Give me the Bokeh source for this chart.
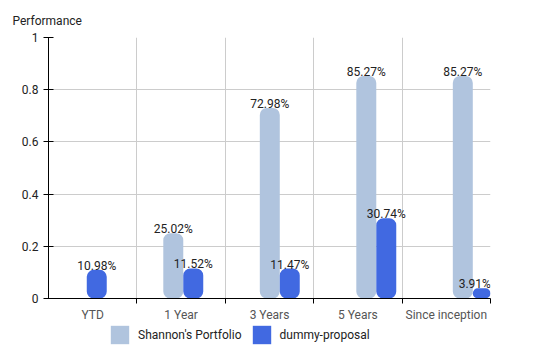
from bokeh.plotting import figure
from bokeh.layouts import column
from bokeh.models import (Range1d, FixedTicker, LinearAxis, NumeralTickFormatter,
                          ColumnDataSource, Legend, LegendItem, Grid)
from bokeh.transform import dodge
from bokeh.embed import file_html
from bokeh.resources import INLINE
from bokeh.core.properties import value

categories = ["YTD", "1 Year", "3 Years", "5 Years", "Since inception"]
shannon = [float("nan"), 0.2502, 0.7298, 0.8527, 0.8527]
dummy = [0.1098, 0.1152, 0.1147, 0.3074, 0.0391]
series_names = ["Shannon's Portfolio", "dummy-proposal"]
y_ticks = [0, 0.2, 0.4, 0.6, 0.8, 1]

FONT = "Roboto"
LIGHT = "#b0c4de"
DARK = "#4169e1"

n = len(categories)
centers = [i + 0.5 for i in range(n)]
bounds = [i + 1 for i in range(n)]

p = figure(frame_width=442, frame_height=261, output_backend="svg", toolbar_location=None,
           x_range=Range1d(0, n), y_range=Range1d(0, 1),
           min_border_left=48, min_border_right=48, min_border_top=37,
           min_border_bottom=24, x_axis_type=None, y_axis_type=None)
p.outline_line_color = None
p.background_fill_color = "white"
p.border_fill_color = "white"

p.title.text = "Performance"
p.title.align = "left"
p.title.offset = -36
p.title.standoff = 20
p.title.text_font = FONT
p.title.text_font_size = "12px"
p.title.text_font_style = "normal"
p.title.text_color = "#222222"

# separate range for the bar slots (bars are spaced slightly wider than the categories)
p.extra_x_ranges = {"bars": Range1d(0, 4.58)}

# axes
xaxis = LinearAxis(ticker=FixedTicker(ticks=centers, minor_ticks=bounds))
xaxis.major_label_overrides = {c: lab for c, lab in zip(centers, categories)}
xaxis.major_tick_in = 0
xaxis.major_tick_out = 0
xaxis.minor_tick_in = 0
xaxis.minor_tick_out = 5
xaxis.minor_tick_line_color = "black"
xaxis.axis_line_color = "black"
xaxis.major_label_standoff = 4
xaxis.major_label_text_font = FONT
xaxis.major_label_text_font_size = "12px"
xaxis.major_label_text_color = "#555555"
p.add_layout(xaxis, "below")

yaxis = LinearAxis(ticker=FixedTicker(ticks=y_ticks, minor_ticks=[]),
                   formatter=NumeralTickFormatter(format="0.[0]"))
yaxis.major_tick_in = 5
yaxis.major_tick_out = 5
yaxis.major_tick_line_color = "black"
yaxis.axis_line_color = "black"
yaxis.major_label_standoff = 5
yaxis.major_label_text_font = FONT
yaxis.major_label_text_font_size = "12px"
yaxis.major_label_text_color = "#222222"
p.add_layout(yaxis, "left")

p.add_layout(Grid(dimension=0, ticker=FixedTicker(ticks=bounds), grid_line_color="#cccccc"))
p.add_layout(Grid(dimension=1, ticker=FixedTicker(ticks=y_ticks), grid_line_color="#cccccc"))

fmt = lambda v: "" if v != v else f"{v*100:.2f}%"
src = ColumnDataSource(dict(
    slot=centers,
    shannon=shannon, dummy=dummy,
    shannon_lab=[fmt(v) for v in shannon],
    dummy_lab=[fmt(v) for v in dummy],
    # labels are nudged inward when they would run past the right edge of the plot
    dummy_shift=[-8 if i == n - 1 else 0 for i in range(n)],
))

W = 0.207
bars_rng = p.extra_x_ranges["bars"]
r1 = p.vbar(x=dodge("slot", -W, range=bars_rng), top="shannon", bottom=0,
            width=W, source=src, x_range_name="bars",
            fill_color=LIGHT, line_color=None, border_radius=7)
r2 = p.vbar(x=dodge("slot", 0, range=bars_rng), top="dummy", bottom=0,
            width=W, source=src, x_range_name="bars",
            fill_color=DARK, line_color=None, border_radius=7)

p.text(x=dodge("slot", -W, range=bars_rng), y="shannon", text="shannon_lab",
       source=src, x_range_name="bars",
       text_align="center", text_baseline="alphabetic", y_offset=-4,
       text_font=value(FONT), text_font_size="12px", text_color="#222222")
p.text(x=dodge("slot", 0, range=bars_rng), y="dummy", text="dummy_lab",
       source=src, x_range_name="bars", x_offset="dummy_shift",
       text_align="center", text_baseline="alphabetic", y_offset=-4,
       text_font=value(FONT), text_font_size="12px", text_color="#222222")

# legend strip underneath the chart (proxy renderers carry only the swatch styles;
# they have zero height and sit outside the strip's range, so nothing is drawn)
lf = figure(width=538, height=30, output_backend="svg", toolbar_location=None,
            x_range=Range1d(0, 1), y_range=Range1d(0, 1),
            min_border=0, x_axis_type=None, y_axis_type=None)
lf.outline_line_color = None
lf.xgrid.visible = False
lf.ygrid.visible = False
proxy = ColumnDataSource(dict(x=[-1], top=[0]))
l1 = lf.vbar(x="x", top="top", bottom=0, width=0.1, source=proxy,
             fill_color=LIGHT, line_color=None)
l2 = lf.vbar(x="x", top="top", bottom=0, width=0.1, source=proxy,
             fill_color=DARK, line_color=None)

legend = Legend(items=[LegendItem(label=series_names[0], renderers=[l1]),
                       LegendItem(label=series_names[1], renderers=[l2])],
                location=(60, 8), orientation="horizontal",
                glyph_width=23, glyph_height=23, label_standoff=7, spacing=8,
                padding=0, margin=0, border_line_color=None,
                background_fill_alpha=0,
                label_text_font=FONT, label_text_font_size="12px",
                label_text_color="#222222")
lf.add_layout(legend, "center")

layout = column(p, lf, spacing=0)
open("out.html", "w").write(file_html(layout, INLINE))
